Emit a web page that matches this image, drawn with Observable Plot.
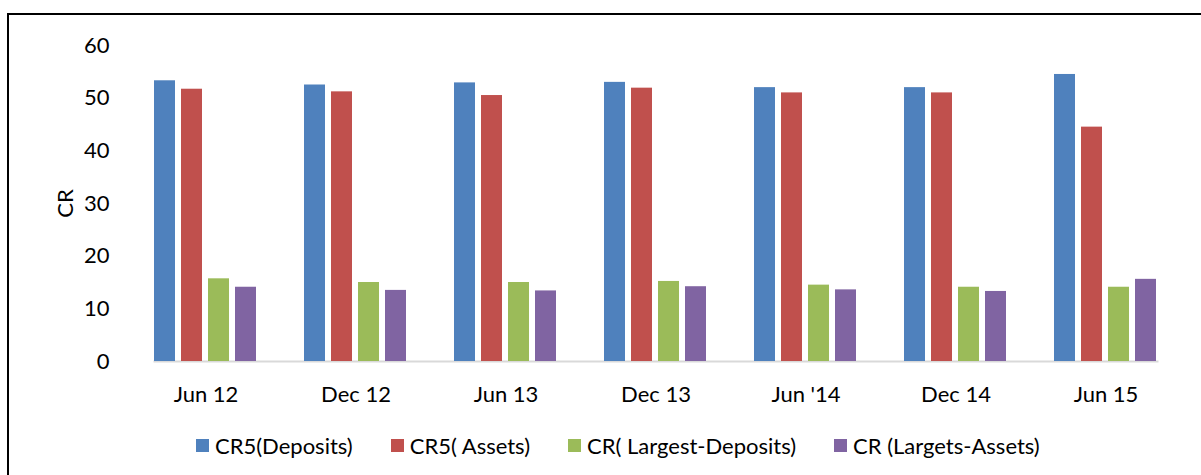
<!DOCTYPE html>
<html>
<head>
<meta charset="utf-8">
<script src="https://cdn.jsdelivr.net/npm/d3@7"></script>
<script src="https://cdn.jsdelivr.net/npm/@observablehq/plot@0.6"></script>
<style>
  html, body { margin: 0; padding: 0; background: #fff; overflow: hidden; width: 1201px; height: 475px; }
  #frame { position: absolute; left: 7px; top: 13px; width: 1400px; height: 700px; border: 2px solid #000; box-sizing: border-box; }
  #chart { position: absolute; left: 0; top: 0; }
  #legend { position: absolute; left: 196px; top: 432px; display: flex; align-items: center; font-family: Lato, sans-serif; font-size: 22px; color: #000; }
  .item { display: flex; align-items: center; margin-right: 38px; }
  .swatch { width: 13px; height: 13px; margin-right: 6px; }
</style>
</head>
<body>
<div id="frame"></div>
<div id="chart"></div>
<div id="legend"></div>
<script>
const periods = ["Jun 12", "Dec 12", "Jun 13", "Dec 13", "Jun '14", "Dec 14", "Jun 15"];
const seriesNames = ["CR5(Deposits)", "CR5( Assets)", "CR( Largest-Deposits)", "CR (Largets-Assets)"];
const seriesColors = ["#4f81bd", "#c0504d", "#9bbb59", "#8064a2"];
const cr5Deposits = [53.3, 52.5, 52.9, 53.0, 52.0, 52.0, 54.5];
const cr5Assets = [51.7, 51.2, 50.5, 51.9, 51.0, 51.0, 44.5];
const crLargestDeposits = [15.7, 15.0, 15.0, 15.2, 14.5, 14.1, 14.1];
const crLargestAssets = [14.1, 13.5, 13.4, 14.2, 13.6, 13.3, 15.6];
const yTicks = [0, 10, 20, 30, 40, 50, 60];

const seriesValues = [cr5Deposits, cr5Assets, crLargestDeposits, crLargestAssets];
const rows = [];
periods.forEach((p, i) => {
  seriesNames.forEach((s, j) => {
    rows.push({period: p, series: s, value: seriesValues[j][i]});
  });
});

const font = "Lato, sans-serif";
const chart = Plot.plot({
  width: 1201,
  height: 420,
  marginLeft: 129,
  marginRight: 19,
  marginTop: 45,
  marginBottom: 59,
  style: {fontFamily: font, fontSize: "22px", color: "#000", background: "transparent", overflow: "visible"},
  fx: {domain: periods, paddingInner: 0.31, paddingOuter: 0.155, label: null, tickSize: 0, tickPadding: 25, axis: "bottom"},
  x: {domain: seriesNames, paddingInner: 0.22, paddingOuter: 0, axis: null},
  y: {domain: [0, 60], ticks: yTicks, tickSize: 0, tickPadding: 45, label: "CR", labelAnchor: "center", labelOffset: 97, labelArrow: "none", grid: false, line: false},
  color: {domain: seriesNames, range: seriesColors},
  marks: [
    Plot.frame({anchor: "bottom", stroke: "#d9d9d9", strokeWidth: 2, facet: "super"}),
    Plot.barY(rows, {fx: "period", x: "series", y: "value", fill: "series"})
  ]
});
document.getElementById("chart").appendChild(chart);

const legend = document.getElementById("legend");
seriesNames.forEach((s, j) => {
  const item = document.createElement("div");
  item.className = "item";
  const sw = document.createElement("div");
  sw.className = "swatch";
  sw.style.background = seriesColors[j];
  const t = document.createElement("span");
  t.textContent = s;
  item.appendChild(sw);
  item.appendChild(t);
  legend.appendChild(item);
});
</script>
</body>
</html>
